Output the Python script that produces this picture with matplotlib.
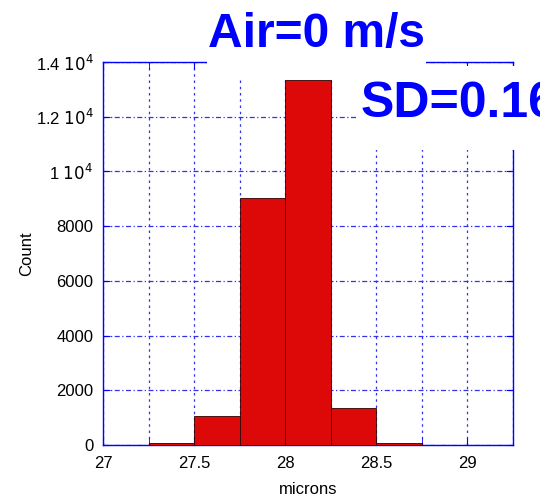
import matplotlib
matplotlib.use("Agg")
import matplotlib.pyplot as plt
from matplotlib.patches import Rectangle
from matplotlib.ticker import FuncFormatter, MultipleLocator
import numpy as np

# histogram data
bin_left = [27.25, 27.5, 27.75, 28.0, 28.25, 28.5, 28.75]
counts = [60, 1060, 9030, 13350, 1350, 90, 15]
bin_width = 0.25

x_ticks = [27, 27.5, 28, 28.5, 29]
y_ticks = [0, 2000, 4000, 6000, 8000, 10000, 12000, 14000]

plt.rcParams['font.family'] = ['Liberation Sans', 'DejaVu Sans']

W, H = 540, 498
fig = plt.figure(figsize=(5.4, 4.98), dpi=100)
ax = fig.add_axes([103 / W, 1 - 445 / H, 410 / W, 383 / H])

ax.bar(bin_left, counts, width=bin_width, align='edge',
       color='#dd0808', edgecolor='#300000', linewidth=0.6, zorder=3)

ax.set_xlim(27, 29.25)
ax.set_ylim(0, 14000)
ax.set_xticks(x_ticks)
ax.xaxis.set_minor_locator(MultipleLocator(0.25))
ax.set_yticks(y_ticks)
ax.xaxis.set_major_formatter(FuncFormatter(lambda v, p: f"{v:g}"))


def yfmt(v, p):
    if v >= 10000:
        return f"{v/1e4:g} $10^4$"
    return f"{v:g}"


ax.yaxis.set_major_formatter(FuncFormatter(yfmt))
ax.tick_params(which='both', direction='in', length=5, color='blue',
               labelsize=12, top=True, right=True)
ax.tick_params(axis='x', pad=8)
ax.tick_params(axis='y', pad=7)
for s in ax.spines.values():
    s.set_color('blue')
    s.set_linewidth(1)
ax.grid(True, which='both', axis='x', color='#3333ee',
        linestyle=(0, (2, 3)), linewidth=0.9, zorder=0)
ax.grid(True, which='major', axis='y', color='#3333ee',
        linestyle=(0, (4, 2, 1, 2)), linewidth=0.9, zorder=0)
ax.set_axisbelow(True)

ax.set_xlabel("microns", fontsize=12, labelpad=8)
ax.set_ylabel("Count", fontsize=12, labelpad=1)

# white boxes behind the big labels, hiding the frame underneath
fig.patches.append(Rectangle((207 / W, 1 - 78 / H), 219 / W, 78 / H,
                             transform=fig.transFigure, facecolor='white',
                             edgecolor='none', zorder=2))
fig.patches.append(Rectangle((356 / W, 1 - 150 / H), 184 / W, 84 / H,
                             transform=fig.transFigure, facecolor='white',
                             edgecolor='none', zorder=2))

fig.text(208 / W, 1 - 47 / H, "Air=0 m/s", fontsize=34.5, fontweight='bold',
         color='blue', ha='left', va='baseline', zorder=3)
fig.text(361 / W, 1 - 117 / H, "SD=0.16", fontsize=36, fontweight='bold',
         color='blue', ha='left', va='baseline', zorder=3)

fig.savefig("out.png", dpi=100)
